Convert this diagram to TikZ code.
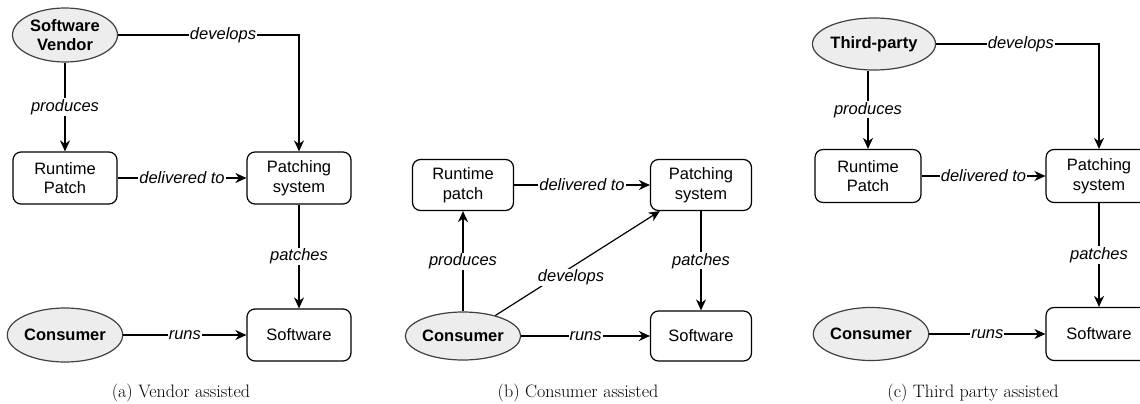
\documentclass[tikz,border=0pt]{standalone}
\usepackage{fontspec}
\newfontfamily\diafont{Liberation Sans}
\newcommand{\dfont}{\diafont\fontsize{16.5}{19.5}\selectfont}
\usetikzlibrary{positioning,shapes.geometric,arrows.meta}
\tikzset{font=\dfont}
\tikzset{
	box/.style={draw, rounded corners=8pt, align=center, line width=1.2pt, inner sep=0pt, minimum width=104pt, minimum height=52pt},
	actor/.style={ellipse, draw=black!75, fill=black!7, align=center, line width=1.2pt, inner sep=0pt, font=\dfont\bfseries},
	rel/.style={-{Stealth[length=11pt,width=10pt,inset=3.5pt]}, line width=1.2pt},
	lbl/.style={fill=white, inner sep=1pt, font=\dfont\itshape},
	subcap/.style={font=\rmfamily\fontsize{18}{22}\selectfont}
}

\begin{document}
\begin{tikzpicture}[x=1pt, y=-1pt]
	\useasboundingbox (0,0) rectangle (1140,404);

	% (a) vendor assisted
	\node[actor, minimum width=105pt, minimum height=54pt] (vendA) at (65,35) {Software\\Vendor};
	\node[box] (patchA) at (65,178) {Runtime\\Patch};
	\node[box] (sysA) at (299,178) {Patching\\system};
	\node[box] (softA) at (299,335) {Software};
	\node[actor, minimum width=104pt, minimum height=54pt] (consA) at (65,335) {Consumer};

	\draw[rel] (vendA) -- node[lbl]{produces} (patchA);
	\draw[rel] (vendA.east) -| node[lbl, pos=0.29]{develops} (sysA.north);
	\draw[rel] (patchA) -- node[lbl]{delivered to} (sysA);
	\draw[rel] (sysA) -- node[lbl]{patches} (softA);
	\draw[rel] (consA) -- node[lbl]{runs} (softA);

	\node[subcap] (capA) at (181,393) {(a) Vendor assisted};

	% (b) consumer assisted
	\node[box, minimum width=101pt, minimum height=51pt] (patchB) at (463,185) {Runtime\\patch};
	\node[box, minimum width=101pt, minimum height=51pt] (sysB) at (701,185) {Patching\\system};
	\node[box, minimum width=101pt, minimum height=50pt] (softB) at (701,336) {Software};
	\node[actor, minimum width=101pt, minimum height=48pt] (consB) at (463,336) {Consumer};

	\draw[rel] (consB) -- node[lbl]{produces} (patchB);
	\draw[rel] (consB) -- node[lbl, pos=0.46, yshift=-10pt]{develops} (sysB);
	\draw[rel] (patchB) -- node[lbl]{delivered to} (sysB);
	\draw[rel] (sysB) -- node[lbl]{patches} (softB);
	\draw[rel] (consB) -- node[lbl]{runs} (softB);

	\node[subcap] (capB) at (578,393) {(b) Consumer assisted};

	% (c) third party assisted
	\node[actor, minimum width=106pt, minimum height=52pt] (thirdC) at (874,44) {Third-party};
	\node[box, minimum width=106pt, minimum height=53pt] (patchC) at (868,176) {Runtime\\Patch};
	\node[box, minimum width=106pt, minimum height=53pt] (sysC) at (1099,176) {Patching\\system};
	\node[box, minimum width=106pt, minimum height=53pt] (softC) at (1099,334) {Software};
	\node[actor, minimum width=100pt, minimum height=53pt] (consC) at (871,334) {Consumer};

	\draw[rel] (thirdC.south -| patchC.north) -- node[lbl]{produces} (patchC);
	\draw[rel] (thirdC.east) -| node[lbl, pos=0.26]{develops} (sysC.north);
	\draw[rel] (patchC) -- node[lbl]{delivered to} (sysC);
	\draw[rel] (sysC) -- node[lbl]{patches} (softC);
	\draw[rel] (consC) -- node[lbl]{runs} (softC);

	\node[subcap] (capC) at (973,393) {(c) Third party assisted};
\end{tikzpicture}
\end{document}
